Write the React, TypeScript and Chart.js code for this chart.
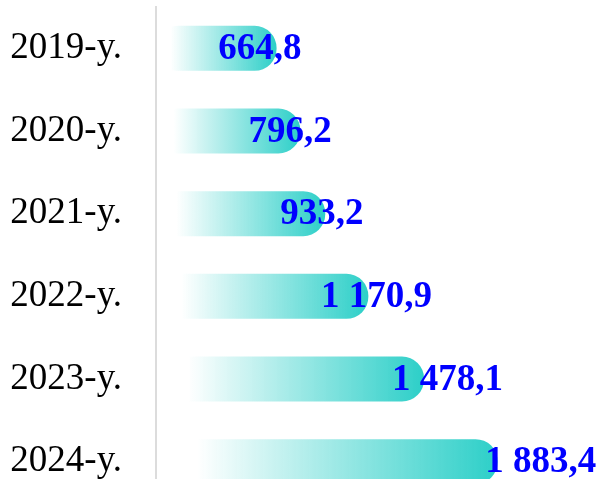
import React, { useEffect, useRef } from "react";
import { Chart, registerables } from "chart.js";

Chart.register(...registerables);

const categories = ["2019-y.", "2020-y.", "2021-y.", "2022-y.", "2023-y.", "2024-y."];
const values = [664.8, 796.2, 933.2, 1170.9, 1478.1, 1883.4];

const BAR_COLOR = "rgb(44, 207, 200)";
const BAR_COLOR_CLEAR = "rgba(44, 207, 200, 0)";

function fmt(v: number): string {
  const [i, d] = v.toFixed(1).split(".");
  const withSpaces = i.replace(/\B(?=(\d{3})+(?!\d))/g, " ");
  return withSpaces + "," + d;
}

const labelPlugin = {
  id: "valueLabels",
  afterDatasetsDraw(chart: any) {
    const ctx = chart.ctx;
    const meta = chart.getDatasetMeta(0);
    const ls = chart.scales.xl;
    ctx.save();
    ctx.font = "bold 37px 'Liberation Serif', 'Times New Roman', serif";
    ctx.fillStyle = "#0000ff";
    ctx.textAlign = "center";
    ctx.textBaseline = "middle";
    meta.data.forEach((bar: any, i: number) => {
      const v = values[i];
      const x = ls.getPixelForValue(v);
      ctx.fillText(fmt(v), x, bar.y + 1);
    });
    ctx.restore();
  },
};

export default function App() {
  const ref = useRef<HTMLCanvasElement>(null);
  useEffect(() => {
    if (!ref.current) return;
    const chart = new Chart(ref.current, {
      type: "bar",
      data: {
        labels: categories,
        datasets: [
          {
            data: values,
            backgroundColor: (c: any) => {
              const chart = c.chart;
              const xs = chart.scales?.x;
              if (!xs || c.dataIndex === undefined) return BAR_COLOR;
              const x0 = xs.getPixelForValue(0);
              const x1 = xs.getPixelForValue(values[c.dataIndex]);
              if (!isFinite(x0) || !isFinite(x1) || x1 <= x0) return BAR_COLOR;
              const g = chart.ctx.createLinearGradient(x0, 0, x1, 0);
              g.addColorStop(0, BAR_COLOR_CLEAR);
              g.addColorStop(0.12, BAR_COLOR_CLEAR);
              g.addColorStop(1, BAR_COLOR);
              return g;
            },
            borderRadius: 22,
            borderSkipped: false,
            barPercentage: 0.545,
            categoryPercentage: 1,
          },
        ],
      },
      options: {
        indexAxis: "y",
        animation: false,
        responsive: false,
        maintainAspectRatio: false,
        layout: { padding: { top: 7, bottom: 7, left: 0, right: 48 } },
        plugins: { legend: { display: false }, tooltip: { enabled: false } },
        scales: {
          x: {
            display: false,
            min: 0,
            max: 2200,
          },
          xl: {
            type: "linear",
            axis: "x",
            display: false,
            min: 214,
            max: 1945,
          },
          y: {
            afterFit: (s: any) => {
              s.width = 156;
              s.paddingTop = 0;
              s.paddingBottom = 0;
            },
            grid: { display: false, drawTicks: false },
            border: { display: true, color: "#dcdcdc", width: 2 },
            ticks: {
              padding: 34,
              color: "#000000",
              font: { family: "'Liberation Serif', 'Times New Roman', serif", size: 37 },
            },
          },
        },
      },
      plugins: [labelPlugin],
    } as any);
    return () => chart.destroy();
  }, []);
  return (
    <div style={{ position: "absolute", left: 0, top: 0, width: 603, height: 510 }}>
      <canvas ref={ref} width={603} height={510} style={{ display: "block" }} />
    </div>
  );
}
